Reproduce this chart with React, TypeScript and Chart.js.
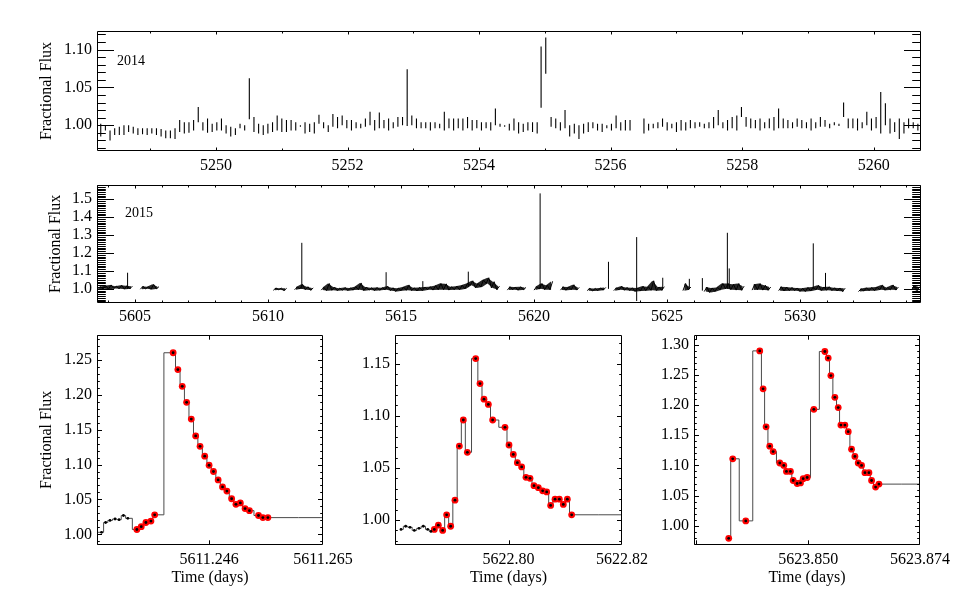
import React, { useEffect, useRef } from 'react';
import { Chart, registerables } from 'chart.js';

Chart.register(...registerables);

const SERIF = "'Liberation Serif', 'Times New Roman', Times, serif";
const INK = '#000000';
const STEP_LINE = '#4a4a4a';
const RED = '#ff0000';

// ---------------- 2014 light curve (orbit-binned vertical segments) ----------------
const Y14_T0 = 5248.247;
const Y14_STEP = 0.0706;
const Y14_LO: (number | null)[] = [
  0.985, 0.993, 0.980, 0.987, 0.987, 0.987, 0.991, 0.989, 0.987, 0.988,
  0.987, 0.989, 0.987, 0.985, 0.983, 0.983, 0.982, 0.991, 0.989, 0.990,
  0.993, 1.004, 0.993, 0.990, 0.991, 0.993, 0.993, 0.989, 0.985, 0.987,
  0.996, 0.993, 1.008, 0.991, 0.989, 0.987, 0.989, 0.991, 0.993, 0.991,
  0.991, 0.993, 0.993, 0.998, 0.989, 0.991, 0.989, 1.002, 0.996, 0.991,
  0.998, 0.996, 1.000, 0.996, 0.993, 0.996, 0.996, 0.998, 1.000, 0.993,
  0.996, 0.996, 0.993, 0.996, 0.998, 1.000, 0.999, 1.000, 0.996, 0.996,
  0.996, 0.993, 0.996, 0.996, 0.993, 0.996, 0.993, 0.996, 0.993, 0.996,
  0.993, 0.996, 0.993, 0.996, 0.993, 1.000, 0.998, 0.998, 0.993, 0.993,
  0.989, 0.991, 0.993, 0.991, 0.989, null, null, 0.998, 0.996, 0.993,
  0.996, 0.985, 0.989, 0.982, 0.989, 0.991, 0.996, 0.993, 0.991, 0.996,
  0.993, 0.996, 0.993, 0.993, 0.993, null, null, 0.989, 0.993, 0.996,
  0.996, 0.998, 0.993, 0.996, 0.991, 0.993, 0.993, 0.996, 0.996, 0.998,
  0.996, 0.996, 0.996, 1.000, 0.996, 0.993, 0.996, 0.993, 1.011, 0.998,
  0.996, 0.996, 0.993, 0.996, 0.996, 0.993, 0.996, 0.996, 0.996, 0.996,
  0.998, 0.996, 0.996, 0.993, 0.996, 0.998, 0.998, 0.996, 1.000, 0.999,
  1.011, 0.996, 0.996, 0.993, 0.996, 1.000, 0.993, 0.996, 0.989, 1.000,
  0.989, 0.991, 0.982, 0.989, 0.996, 0.996, 0.993,
];
const Y14_HI: (number | null)[] = [
  1.002, 0.999, 0.993, 0.996, 0.998, 1.000, 1.000, 0.998, 0.996, 0.996,
  0.996, 0.996, 0.996, 0.995, 0.993, 0.993, 0.996, 1.007, 1.004, 1.004,
  1.007, 1.024, 1.004, 1.009, 1.002, 1.004, 1.009, 1.000, 0.998, 0.996,
  1.002, 1.000, 1.062, 1.011, 1.002, 1.000, 1.002, 1.004, 1.013, 1.009,
  1.007, 1.007, 1.004, 1.000, 1.004, 1.002, 1.004, 1.014, 1.004, 1.000,
  1.015, 1.011, 1.013, 1.007, 1.007, 1.004, 1.002, 1.009, 1.018, 1.007,
  1.017, 1.007, 1.009, 1.004, 1.011, 1.011, 1.074, 1.013, 1.009, 1.004,
  1.004, 1.004, 1.004, 1.002, 1.018, 1.009, 1.009, 1.009, 1.009, 1.011,
  1.007, 1.007, 1.004, 1.004, 1.004, 1.022, 1.002, 1.000, 1.002, 1.009,
  1.004, 1.002, 1.004, 1.004, 1.004, null, null, 1.011, 1.009, 1.004,
  1.020, 1.000, 1.002, 1.000, 1.002, 1.004, 1.004, 1.002, 1.002, 1.000,
  1.002, 1.013, 1.004, 1.007, 1.007, null, null, 1.009, 1.002, 1.002,
  1.004, 1.009, 1.004, 1.002, 1.004, 1.007, 1.004, 1.007, 1.004, 1.004,
  1.002, 1.004, 1.011, 1.020, 1.004, 1.007, 1.011, 1.013, 1.024, 1.011,
  1.009, 1.007, 1.009, 1.004, 1.009, 1.011, 1.022, 1.009, 1.007, 1.004,
  1.009, 1.007, 1.004, 1.009, 1.004, 1.011, 1.007, 1.002, 1.004, 1.002,
  1.030, 1.009, 1.009, 1.009, 1.004, 1.018, 1.009, 1.011, 1.044, 1.029,
  1.009, 1.004, 1.009, 1.004, 1.009, 1.004, 1.002,
];
const FLARE14_T = [5254.943, 5255.014];
const FLARE14_LO = [1.023, 1.068];
const FLARE14_HI = [1.104, 1.116];

// ---------------- 2015 light curve (0.2-day min/max envelope) ----------------
const Y15_T0 = 5603.6;
const Y15_BIN = 0.2;
const Y15_LO: (number | null)[] = [
  0.995, 1.000, 0.998, 1.002, 1.000, 0.998, 1.000, null, 0.998, 1.000,
  0.997, 1.000, null, null, null, null, null, null, null, null,
  null, null, null, null, null, null, null, null, null, null,
  null, null, null, 0.992, 0.995, 0.990, null, 0.995, 1.000, 0.995,
  0.992, null, 0.993, 0.990, 0.992, 0.990, 0.992, 0.990, 0.993, 0.995,
  0.990, 0.993, 0.990, 0.992, 0.995, 0.990, 0.985, 0.990, 0.992, 0.990,
  0.988, 0.990, 0.995, 0.993, 0.995, 0.995, 0.993, 0.995, 0.995, 1.000,
  1.020, 1.005, 1.010, 1.030, 1.005, 0.995, null, 0.993, 0.995, 0.992,
  0.995, null, 0.993, 1.000, 0.995, 0.995, null, 0.993, 0.992, 0.995,
  0.993, null, 0.990, 0.988, 0.990, 0.993, null, 0.990, 0.995, 0.992,
  0.990, 0.985, 0.988, 0.990, 0.992, 0.990, 0.992, null, null, null,
  0.990, 0.995, null, null, 0.985, 0.980, 0.985, 0.995, 1.000, 0.995,
  0.993, 0.992, null, 0.993, 0.995, 0.993, 0.992, null, 0.990, 0.988,
  0.990, 0.990, 0.985, 0.985, 0.988, 0.995, 0.990, 0.992, 0.990, 0.988,
  0.985, null, null, 0.985, 0.988, 0.990, 0.990, 0.995, 0.992, 0.995,
  0.993, null, null, 0.995, 0.990,
];
const Y15_HI: (number | null)[] = [
  1.012, 1.018, 1.022, 1.015, 1.020, 1.018, 1.015, null, 1.014, 1.012,
  1.025, 1.012, null, null, null, null, null, null, null, null,
  null, null, null, null, null, null, null, null, null, null,
  null, null, null, 1.005, 1.004, 1.003, null, 1.010, 1.025, 1.012,
  1.005, null, 1.008, 1.030, 1.010, 1.004, 1.008, 1.005, 1.012, 1.033,
  1.010, 1.006, 1.008, 1.006, 1.015, 1.006, 1.004, 1.010, 1.022, 1.006,
  1.008, 1.010, 1.012, 1.018, 1.030, 1.028, 1.012, 1.015, 1.020, 1.030,
  1.045, 1.030, 1.050, 1.062, 1.040, 1.015, null, 1.012, 1.010, 1.012,
  1.008, null, 1.012, 1.030, 1.020, 1.042, null, 1.012, 1.010, 1.023,
  1.008, null, 1.004, 1.002, 1.005, 1.008, null, 1.005, 1.015, 1.008,
  1.006, 1.005, 1.015, 1.012, 1.045, 1.010, 1.012, null, null, null,
  1.030, 1.010, null, null, 1.010, 1.005, 1.008, 1.030, 1.030, 1.025,
  1.030, 1.015, null, 1.025, 1.030, 1.020, 1.010, null, 1.012, 1.010,
  1.008, 1.005, 1.003, 1.008, 1.010, 1.020, 1.010, 1.012, 1.006, 1.005,
  1.004, null, null, 1.000, 1.006, 1.008, 1.010, 1.022, 1.008, 1.022,
  1.010, null, null, 1.020, 1.012,
];
const SPIKE15_T = [5604.72, 5611.27, 5614.44, 5615.82, 5617.53, 5620.23, 5622.80, 5623.86, 5624.84, 5625.84, 5626.33, 5627.27, 5627.34, 5630.50, 5630.96];
const SPIKE15_LO = [1.000, 1.000, 1.000, 1.000, 1.010, 1.000, 1.000, 0.932, 1.000, 1.000, 0.990, 1.000, 1.000, 1.000, 1.000];
const SPIKE15_HI = [1.090, 1.257, 1.093, 1.043, 1.096, 1.533, 1.151, 1.289, 1.062, 1.056, 1.060, 1.313, 1.114, 1.254, 1.089];

// ---------------- Flare 1 (5611.2) ----------------
const A_QUIET_T = [5611.22722, 5611.22806, 5611.22874, 5611.22947, 5611.23031, 5611.23098, 5611.23171, 5611.23244];
const A_QUIET_F = [1.003, 1.003, 1.017, 1.020, 1.022, 1.021, 1.027, 1.023];
const A_FLARE_T = [5611.23395, 5611.23468, 5611.23546, 5611.23630, 5611.23692, 5611.24000, 5611.24079, 5611.24152, 5611.24225, 5611.24303, 5611.24376, 5611.24449, 5611.24527, 5611.24600, 5611.24673, 5611.24751, 5611.24824, 5611.24897, 5611.24976, 5611.25048, 5611.25121, 5611.25200, 5611.25273, 5611.25424, 5611.25497, 5611.25581];
const A_FLARE_F = [1.007, 1.011, 1.017, 1.019, 1.028, 1.260, 1.236, 1.212, 1.189, 1.165, 1.141, 1.126, 1.112, 1.099, 1.090, 1.078, 1.068, 1.062, 1.051, 1.043, 1.045, 1.037, 1.034, 1.027, 1.024, 1.024];
const A_TAIL_T = 5611.2660;

// ---------------- Flare 2 (5622.8) ----------------
const B_QUIET_T = [5622.78106, 5622.78188, 5622.78264, 5622.78341, 5622.78423, 5622.78499, 5622.78576, 5622.78634];
const B_QUIET_F = [0.991, 0.994, 0.993, 0.990, 0.992, 0.994, 0.991, 0.989];
const B_FLARE_T = [5622.78693, 5622.78764, 5622.78840, 5622.78910, 5622.78981, 5622.79057, 5622.79134, 5622.79204, 5622.79275, 5622.79422, 5622.79498, 5622.79568, 5622.79645, 5622.79721, 5622.79938, 5622.80009, 5622.80085, 5622.80156, 5622.80232, 5622.80308, 5622.80379, 5622.80449, 5622.80526, 5622.80602, 5622.80673, 5622.80743, 5622.80820, 5622.80896, 5622.80966, 5622.81037, 5622.81113];
const B_FLARE_F = [0.991, 0.995, 0.990, 1.005, 0.994, 1.019, 1.071, 1.096, 1.065, 1.155, 1.131, 1.116, 1.111, 1.096, 1.089, 1.072, 1.063, 1.055, 1.051, 1.041, 1.040, 1.033, 1.031, 1.028, 1.027, 1.014, 1.020, 1.020, 1.015, 1.020, 1.005];
const B_TAIL_T = 5622.8205;

// ---------------- Flare 3 (5623.85, double) ----------------
const C_QUIET_T: number[] = [];
const C_QUIET_F: number[] = [];
const C_FLARE_T = [5623.83295, 5623.83381, 5623.83661, 5623.83961, 5623.84033, 5623.84097, 5623.84176, 5623.84248, 5623.84391, 5623.84477, 5623.84534, 5623.84620, 5623.84678, 5623.84764, 5623.84835, 5623.84893, 5623.84979, 5623.85122, 5623.85358, 5623.85430, 5623.85487, 5623.85573, 5623.85645, 5623.85702, 5623.85788, 5623.85860, 5623.85931, 5623.86003, 5623.86074, 5623.86146, 5623.86218, 5623.86304, 5623.86361, 5623.86447, 5623.86519];
const C_FLARE_F = [0.979, 1.111, 1.008, 1.290, 1.227, 1.164, 1.132, 1.123, 1.104, 1.100, 1.090, 1.090, 1.075, 1.070, 1.071, 1.078, 1.080, 1.193, 1.289, 1.278, 1.249, 1.213, 1.196, 1.167, 1.167, 1.156, 1.127, 1.115, 1.104, 1.100, 1.088, 1.088, 1.075, 1.064, 1.069];
const C_TAIL_T = 5623.8750;

// ---------------- axis ticks ----------------
const X14_TICKS = [5250, 5252, 5254, 5256, 5258, 5260];
const Y14_TICKS = [1.00, 1.05, 1.10];
const X15_TICKS = [5605, 5610, 5615, 5620, 5625, 5630];
const Y15_TICKS = [1.0, 1.1, 1.2, 1.3, 1.4, 1.5];
const XA_TICKS = [5611.2273, 5611.246, 5611.265];
const XA_LABELS = ['', '5611.246', '5611.265'];
const YA_TICKS = [1.00, 1.05, 1.10, 1.15, 1.20, 1.25];
const XB_TICKS = [5622.78, 5622.80, 5622.82];
const XB_LABELS = ['', '5622.80', '5622.82'];
const YB_TICKS = [1.00, 1.05, 1.10, 1.15];
const XC_TICKS = [5623.826, 5623.850, 5623.874];
const XC_LABELS = ['', '5623.850', '5623.874'];
const YC_TICKS = [1.00, 1.05, 1.10, 1.15, 1.20, 1.25, 1.30];

// ---------------- builders ----------------
type Pt = { x: number; y: number | null };

function verticalSegments(ts: number[], lo: (number | null)[], hi: (number | null)[]): Pt[] {
  const rows: [number, number, number][] = [];
  ts.forEach((t, i) => {
    const l = lo[i];
    const h = hi[i];
    if (l == null || h == null) return;
    rows.push([t, l, h]);
  });
  rows.sort((a, b) => a[0] - b[0]);
  const pts: Pt[] = [];
  rows.forEach(([t, l, h]) => {
    pts.push({ x: t, y: l }, { x: t, y: h }, { x: t, y: null });
  });
  return pts;
}

// min/max of each bin, drawn as the usual min-max decimation trace (min then max)
function envelopeTrace(t0: number, bin: number, lo: (number | null)[], hi: (number | null)[]): Pt[] {
  const pts: Pt[] = [];
  lo.forEach((l, i) => {
    const t = t0 + i * bin;
    const h = hi[i];
    if (l == null || h == null) {
      pts.push({ x: t, y: null });
      return;
    }
    pts.push({ x: t, y: l }, { x: t + bin / 2, y: h });
  });
  return pts;
}

function binEdge(t0: number, bin: number, vals: (number | null)[]): Pt[] {
  return vals.map((v, i) => ({ x: t0 + (i + 0.25) * bin, y: v }));
}

function zip(ts: number[], fs: number[]): Pt[] {
  return ts.map((t, i) => ({ x: t, y: fs[i] }));
}

function flarePanelDatasets(qt: number[], qf: number[], ft: number[], ff: number[], tailT: number) {
  const quiet = zip(qt, qf);
  const flare = zip(ft, ff);
  const all = quiet.concat(flare);
  const curve = all.concat([{ x: tailT, y: ff[ff.length - 1] }]);
  return [
    { label: 'cadence', data: all, showLine: false, pointRadius: 1.4, pointBackgroundColor: INK, pointBorderWidth: 0 },
    { label: 'flare', data: flare, showLine: false, pointRadius: 3.4, pointBackgroundColor: RED, pointBorderWidth: 0 },
    { label: 'curve', data: curve, showLine: true, stepped: 'middle', borderColor: STEP_LINE, borderWidth: 1, pointRadius: 0 },
  ];
}

const top14Times = Y14_LO.map((_, i) => Y14_T0 + i * Y14_STEP);

// ---------------- frame / inward tick plugin ----------------
const idlFrame = {
  id: 'idlFrame',
  afterDatasetsDraw(chart: any, _args: any, opts: any) {
    const { ctx, chartArea: a } = chart;
    const xs = chart.scales.x;
    const ys = chart.scales.y;
    const L = Math.round(a.left) + 0.5;
    const R = Math.round(a.right) - 0.5;
    const T = Math.round(a.top) + 0.5;
    const B = Math.round(a.bottom) - 0.5;
    ctx.save();
    ctx.strokeStyle = INK;
    ctx.lineWidth = 1;
    ctx.beginPath();
    ctx.rect(L, T, R - L, B - T);
    const xMaj: number[] = xs.ticks.map((t: any) => t.value);
    const yMaj: number[] = ys.ticks.map((t: any) => t.value);
    const xTick = (v: number, len: number) => {
      const p = Math.round(xs.getPixelForValue(v)) + 0.5;
      if (p < L - 0.6 || p > R + 0.6) return;
      ctx.moveTo(p, B); ctx.lineTo(p, B - len);
      ctx.moveTo(p, T); ctx.lineTo(p, T + len);
    };
    const yTick = (v: number, len: number) => {
      const p = Math.round(ys.getPixelForValue(v)) + 0.5;
      if (p < T - 0.6 || p > B + 0.6) return;
      ctx.moveTo(L, p); ctx.lineTo(L + len, p);
      ctx.moveTo(R, p); ctx.lineTo(R - len, p);
    };
    xMaj.forEach((v) => xTick(v, opts.xLen[0]));
    yMaj.forEach((v) => yTick(v, opts.yLen[0]));
    const minors = (min: number, max: number, s: number, maj: number[], fn: (v: number, l: number) => void, len: number) => {
      for (let k = Math.ceil(min / s - 1e-6); k * s <= max + s * 1e-6; k++) {
        const v = k * s;
        if (!maj.some((u) => Math.abs(u - v) < s * 1e-3)) fn(v, len);
      }
    };
    if (opts.xMinorStep) minors(xs.min, xs.max, opts.xMinorStep, xMaj, xTick, opts.xLen[1]);
    if (opts.yMinorStep) minors(ys.min, ys.max, opts.yMinorStep, yMaj, yTick, opts.yLen[1]);
    ctx.stroke();
    if (opts.note) {
      ctx.font = `14px ${SERIF}`;
      ctx.fillStyle = INK;
      ctx.textAlign = 'left';
      ctx.textBaseline = 'middle';
      ctx.fillText(opts.note.text, xs.getPixelForValue(opts.note.x), ys.getPixelForValue(opts.note.y));
    }
    ctx.restore();
  },
};

// ---------------- panel specs ----------------
interface PanelSpec {
  box: { left: number; top: number; width: number; height: number };
  plot: { left: number; top: number; right: number; bottom: number };
  xMin: number; xMax: number; yMin: number; yMax: number;
  xTicks: number[]; xLabels: string[];
  yTicks: number[]; yLabels: string[];
  xMinorStep?: number; yMinorStep?: number;
  xLen: [number, number]; yLen: [number, number];
  yTitle?: string; yTitleX?: number;
  xTitle?: string; xTitleY?: number;
  xLabelPad: number; yLabelPad: number;
  note?: { text: string; x: number; y: number };
  datasets: any[];
}

const fmt = (arr: number[], d: number) => arr.map((v) => v.toFixed(d));

const PANELS: PanelSpec[] = [
  {
    box: { left: 0, top: 0, width: 969, height: 180 },
    plot: { left: 97, top: 31, right: 921, bottom: 151 },
    xMin: 5248.19, xMax: 5260.72, yMin: 0.966, yMax: 1.1245,
    xTicks: X14_TICKS, xLabels: fmt(X14_TICKS, 0),
    yTicks: Y14_TICKS, yLabels: fmt(Y14_TICKS, 2),
    xMinorStep: 1, yMinorStep: 0.01,
    xLen: [3, 2], yLen: [16.5, 8.3],
    yTitle: 'Fractional Flux', yTitleX: 46.7,
    xLabelPad: 5.5, yLabelPad: 5,
    note: { text: '2014', x: 5248.494, y: 1.085 },
    datasets: [
      { label: '2014', data: verticalSegments(top14Times.concat(FLARE14_T), Y14_LO.concat(FLARE14_LO), Y14_HI.concat(FLARE14_HI)), showLine: true, borderColor: INK, borderWidth: 1.1, pointRadius: 0 },
    ],
  },
  {
    box: { left: 0, top: 170, width: 969, height: 170 },
    plot: { left: 97, top: 182, right: 921, bottom: 303 },
    xMin: 5603.57, xMax: 5634.55, yMin: 0.921, yMax: 1.582,
    xTicks: X15_TICKS, xLabels: fmt(X15_TICKS, 0),
    yTicks: Y15_TICKS, yLabels: fmt(Y15_TICKS, 1),
    xMinorStep: 1, yMinorStep: 0.01,
    xLen: [3, 2], yLen: [16.5, 8.3],
    yTitle: 'Fractional Flux', yTitleX: 56,
    xLabelPad: 4.5, yLabelPad: 5,
    note: { text: '2015', x: 5604.62, y: 1.42 },
    datasets: [
      { label: 'spikes', data: verticalSegments(SPIKE15_T, SPIKE15_LO, SPIKE15_HI), showLine: true, borderColor: INK, borderWidth: 1, pointRadius: 0 },
      { label: 'trace', data: envelopeTrace(Y15_T0, Y15_BIN, Y15_LO, Y15_HI), showLine: true, borderColor: INK, borderWidth: 1, pointRadius: 0 },
      { label: 'max', data: binEdge(Y15_T0, Y15_BIN, Y15_HI), showLine: true, borderColor: 'rgba(0,0,0,0)', borderWidth: 0, pointRadius: 0, fill: '+1', backgroundColor: 'rgba(0,0,0,0.85)' },
      { label: 'min', data: binEdge(Y15_T0, Y15_BIN, Y15_LO), showLine: true, borderColor: 'rgba(0,0,0,0)', borderWidth: 0, pointRadius: 0, fill: false },
    ],
  },
  {
    box: { left: 0, top: 320, width: 362, height: 286 },
    plot: { left: 97, top: 333, right: 323, bottom: 545 },
    xMin: 5611.2273, xMax: 5611.265, yMin: 0.9848, yMax: 1.286,
    xTicks: XA_TICKS, xLabels: XA_LABELS,
    yTicks: YA_TICKS, yLabels: fmt(YA_TICKS, 2),
    yMinorStep: 0.01,
    xLen: [4.2, 2.1], yLen: [4.5, 2.3],
    yTitle: 'Fractional Flux', yTitleX: 46.7,
    xTitle: 'Time (days)', xTitleY: 578,
    xLabelPad: 5.4, yLabelPad: 5,
    datasets: flarePanelDatasets(A_QUIET_T, A_QUIET_F, A_FLARE_T, A_FLARE_F, A_TAIL_T),
  },
  {
    box: { left: 330, top: 320, width: 330, height: 286 },
    plot: { left: 395, top: 333, right: 622, bottom: 545 },
    xMin: 5622.78, xMax: 5622.82, yMin: 0.976, yMax: 1.178,
    xTicks: XB_TICKS, xLabels: XB_LABELS,
    yTicks: YB_TICKS, yLabels: fmt(YB_TICKS, 2),
    yMinorStep: 0.01,
    xLen: [4.2, 2.1], yLen: [4.5, 2.3],
    xTitle: 'Time (days)', xTitleY: 578,
    xLabelPad: 5.4, yLabelPad: 5,
    datasets: flarePanelDatasets(B_QUIET_T, B_QUIET_F, B_FLARE_T, B_FLARE_F, B_TAIL_T),
  },
  {
    box: { left: 640, top: 320, width: 329, height: 286 },
    plot: { left: 694, top: 333, right: 920, bottom: 545 },
    xMin: 5623.8255, xMax: 5623.874, yMin: 0.968, yMax: 1.317,
    xTicks: XC_TICKS, xLabels: XC_LABELS,
    yTicks: YC_TICKS, yLabels: fmt(YC_TICKS, 2),
    yMinorStep: 0.01,
    xLen: [4.2, 2.1], yLen: [4.5, 2.3],
    xTitle: 'Time (days)', xTitleY: 578,
    xLabelPad: 5.4, yLabelPad: 5,
    datasets: flarePanelDatasets(C_QUIET_T, C_QUIET_F, C_FLARE_T, C_FLARE_F, C_TAIL_T),
  },
];

const LINE_H = 16 * 1.2;

function Panel({ spec }: { spec: PanelSpec }) {
  const ref = useRef<HTMLCanvasElement | null>(null);
  useEffect(() => {
    const s = spec;
    const yScaleWidth = s.plot.left - s.box.left;
    const xScaleHeight = s.box.top + s.box.height - s.plot.bottom;
    const font = { family: SERIF, size: 16 };
    const chart = new Chart(ref.current as HTMLCanvasElement, {
      type: 'line',
      data: { datasets: s.datasets },
      options: {
        animation: false,
        responsive: false,
        events: [],
        layout: {
          autoPadding: false,
          padding: {
            left: 0,
            top: s.plot.top - s.box.top,
            right: s.box.left + s.box.width - s.plot.right,
            bottom: 0,
          },
        },
        plugins: {
          legend: { display: false },
          tooltip: { enabled: false },
          filler: { propagate: false },
          idlFrame: {
            xLen: s.xLen, yLen: s.yLen,
            xMinorStep: s.xMinorStep, yMinorStep: s.yMinorStep,
            note: s.note,
          },
        } as any,
        scales: {
          x: {
            type: 'linear',
            min: s.xMin, max: s.xMax,
            bounds: 'data',
            grid: { display: false, drawTicks: false },
            border: { display: false },
            ticks: {
              autoSkip: false, maxRotation: 0, minRotation: 0,
              padding: s.xLabelPad, color: INK, font,
              callback: (_v: any, i: number) => s.xLabels[i] ?? '',
            },
            afterBuildTicks: (sc: any) => { sc.ticks = s.xTicks.map((v) => ({ value: v })); },
            afterFit: (sc: any) => { sc.height = xScaleHeight; },
            title: s.xTitle
              ? { display: true, text: s.xTitle, color: INK, font, padding: { top: 0, bottom: s.box.top + s.box.height - (s.xTitleY as number) - LINE_H / 2 } }
              : { display: false },
          },
          y: {
            type: 'linear',
            min: s.yMin, max: s.yMax,
            bounds: 'data',
            grid: { display: false, drawTicks: false },
            border: { display: false },
            ticks: {
              autoSkip: false,
              padding: s.yLabelPad, color: INK, font,
              callback: (_v: any, i: number) => s.yLabels[i] ?? '',
            },
            afterBuildTicks: (sc: any) => { sc.ticks = s.yTicks.map((v) => ({ value: v })); },
            afterFit: (sc: any) => { sc.width = yScaleWidth; },
            title: s.yTitle
              ? { display: true, text: s.yTitle, color: INK, font, padding: { top: (s.yTitleX as number) - s.box.left - LINE_H / 2, bottom: 0 } }
              : { display: false },
          },
        },
      } as any,
      plugins: [idlFrame as any],
    });
    return () => chart.destroy();
  }, [spec]);
  return (
    <canvas
      ref={ref}
      width={spec.box.width}
      height={spec.box.height}
      style={{ position: 'absolute', left: spec.box.left, top: spec.box.top, width: spec.box.width, height: spec.box.height }}
    />
  );
}

export default function App() {
  return (
    <div style={{ position: 'fixed', left: 0, top: 0, width: 969, height: 606, background: '#ffffff', overflow: 'hidden' }}>
      {PANELS.map((p, i) => (
        <Panel key={i} spec={p} />
      ))}
    </div>
  );
}
